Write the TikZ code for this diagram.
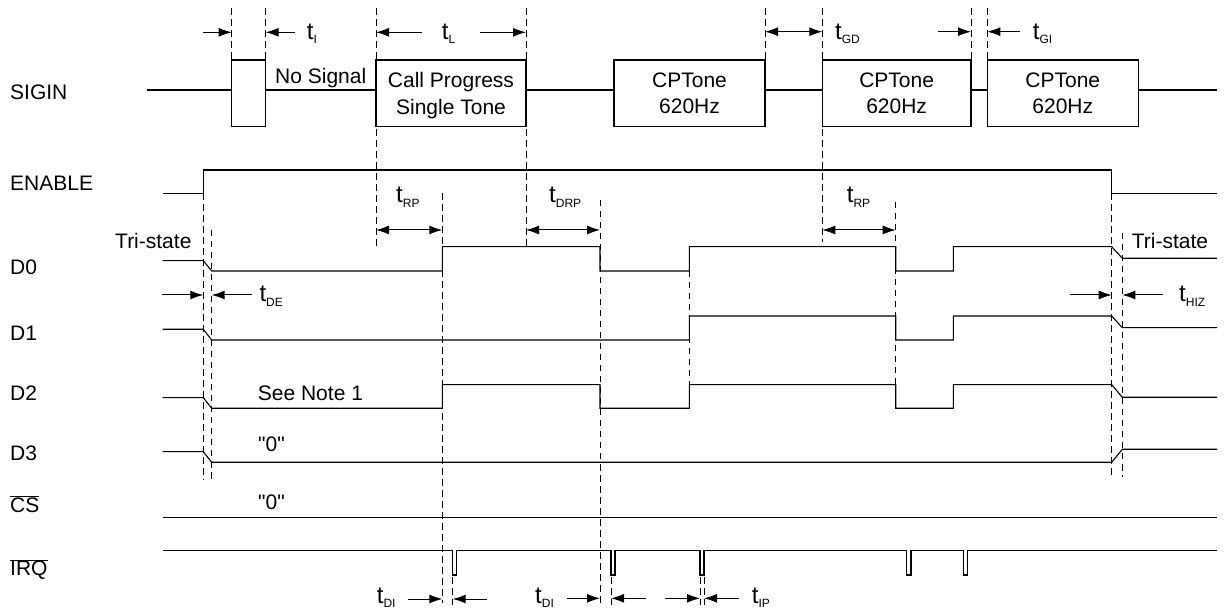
\documentclass[tikz,border=0pt]{standalone}
\usepackage{fontspec}
\setmainfont{Liberation Sans}[Ligatures=TeXOff]
\usetikzlibrary{arrows.meta}
\newcommand{\tlab}[1]{{\fontsize{24}{24}\selectfont t}\raisebox{-4.7pt}{\fontsize{12}{12}\selectfont #1}}
\newcommand{\qzero}{\symbol{34}0\symbol{34}}
\begin{document}
\begin{tikzpicture}[x=1pt,y=-1pt,
    font=\fontsize{21}{26.5}\selectfont,
    sig/.style={line width=1.1pt},
    guide/.style={line width=0.9pt, dash pattern=on 6.5pt off 4.5pt},
    dim/.style={line width=1pt, -{Latex[length=13pt,width=9pt]}},
    dimboth/.style={line width=1pt, {Latex[length=13pt,width=9pt]}-{Latex[length=13pt,width=9pt]}},
    tone/.style={draw, line width=1.1pt, inner sep=0pt, minimum height=66.7pt, align=center, text depth=0pt},
    lbl/.style={anchor=base west, inner sep=0pt}]
    \useasboundingbox (0,0) rectangle (1224,609);

    \foreach \x in {231.7,265.7,765,971,987.3} \draw[guide] (\x,8.3)--(\x,60);
    \draw[guide] (376,8.3)--(376,246);   \draw[guide] (526,8.3)--(526,246.7);
    \draw[guide] (822.3,8.3)--(822.3,241.7);
    \draw[guide] (203.3,193.3)--(203.3,480);   \draw[guide] (211.7,230)--(211.7,480);
    \draw[guide] (442.3,193.3)--(442.3,603);   \draw[guide] (600,200)--(600,603);
    \draw[guide] (689.3,271)--(689.3,408.3);   \draw[guide] (895.7,201.7)--(895.7,408.3);
    \draw[guide] (1111.7,193.3)--(1111.7,476.7);   \draw[guide] (1122.3,233)--(1122.3,476.7);
    \foreach \x in {452.7,611,700,704} \draw[guide] (\x,577)--(\x,605);

    \node[lbl] (sigin) at (10,99.5) {SIGIN};
    \node[lbl] (enable) at (10,190.8) {ENABLE};
    \node[lbl] (dzero) at (10,274.2) {D0};
    \node[lbl] (done) at (10,340.8) {D1};
    \node[lbl] (dtwo) at (10,400.8) {D2};
    \node[lbl] (dthree) at (10,460.8) {D3};
    \node[lbl] (cs) at (10,512.5) {$\overline{\hbox{CS}}$};
    \node[lbl] (irq) at (10,575.8) {$\overline{\hbox{IRQ}}$};

    \coordinate (s) at (0,90);
    \node[tone, minimum width=34pt] (pls) at (248.7,93.35) {};
    \node[tone, minimum width=150pt] (cp) at (451,93.35) {Call Progress\\Single Tone};
    \node[tone, minimum width=151pt] (cpa) at (689.5,93.35) {CPTone\\620Hz};
    \node[tone, minimum width=148.7pt] (cpb) at (896.65,93.35) {CPTone\\620Hz};
    \node[tone, minimum width=151pt] (cpc) at (1062.8,93.35) {CPTone\\620Hz};
    \draw[sig] (147,90)--(pls.west|-s) (pls.east|-s)--(cp.west|-s) (cp.east|-s)--(cpa.west|-s)
        (cpa.east|-s)--(cpb.west|-s) (cpb.east|-s)--(cpc.west|-s) (cpc.east|-s)--(1216.7,90);
    \node[lbl] (nosig) at (275,83.3) {No Signal};

    \draw[sig] (162.7,193.3)--(203.3,193.3)--(203.3,170)--(1111.7,170)--(1111.7,193.3)--(1216.7,193.3);

    \draw[sig] (162.7,260.7)--(203.3,260.7)--(211.7,271)--(442.3,271)--(442.3,246.7)--(600,246.7)--(600,271)
        --(689.3,271)--(689.3,246.7)--(895.7,246.7)--(895.7,271)--(953.3,271)--(953.3,246.7)
        --(1111.7,246.7)--(1122.3,258.3)--(1217,258.3);
    \draw[sig] (162.7,329.3)--(203.3,329.3)--(211.7,340)--(689.3,340)--(689.3,316)--(895.7,316)--(895.7,340)
        --(953.3,340)--(953.3,316)--(1111.7,316)--(1122.3,327.7)--(1217,327.7);
    \draw[sig] (162.7,397.7)--(203.3,397.7)--(211.7,408.3)--(442.3,408.3)--(442.3,384.7)--(600,384.7)--(600,408.3)
        --(689.3,408.3)--(689.3,384.7)--(895.7,384.7)--(895.7,408.3)--(953.3,408.3)--(953.3,384.7)
        --(1111.7,384.7)--(1122.3,397.3)--(1217,397.3);
    \draw[sig] (162.7,451.7)--(203.3,451.7)--(211.7,462.3)--(1111.7,462.3)--(1122.3,449.3)--(1217,449.3);
    \draw[sig] (162.7,517.7)--(1217,517.7);
    \draw[sig] (162.7,550.7)--(452.3,550.7)--(452.3,575)--(456.7,575)--(456.7,550.7)
        --(611,550.7)--(611,575)--(615,575)--(615,550.7)
        --(700,550.7)--(700,575)--(704,575)--(704,550.7)
        --(906.7,550.7)--(906.7,575)--(911,575)--(911,550.7)
        --(963.3,550.7)--(963.3,575)--(967.7,575)--(967.7,550.7)--(1217,550.7);

    \node[lbl] (tril) at (115,248.5) {Tri-state};
    \node[lbl] (trir) at (1131.7,248.2) {Tri-state};
    \node[lbl] (note) at (257.7,400.8) {See Note 1};
    \node[lbl] (zd) at (258,451.5) {\qzero};
    \node[lbl] (zcs) at (258,509.2) {\qzero};

    \draw[dim] (203,32.3)--(231.7,32.3);   \draw[dim] (295,32.3)--(265.7,32.3);
    \node[lbl] (ti) at (306.7,39.3) {\tlab{I}};
    \draw[dim] (421.7,32.3)--(376,32.3);   \draw[dim] (480,32.3)--(526,32.3);
    \node[lbl] (tl) at (441.7,39.3) {\tlab{L}};
    \draw[dimboth] (765,31.7)--(822.3,31.7);
    \node[lbl] (tgd) at (835,39.3) {\tlab{GD}};
    \draw[dim] (938.3,31.7)--(971,31.7);   \draw[dim] (1020,31.7)--(987.3,31.7);
    \node[lbl] (tgi) at (1032.7,39.3) {\tlab{GI}};

    \draw[dimboth] (376,230)--(442.3,230);
    \node[lbl] (trp) at (396,202.7) {\tlab{RP}};
    \draw[dimboth] (526,230)--(600,230);
    \node[lbl] (tdrp) at (549,202.7) {\tlab{DRP}};
    \draw[dimboth] (822.3,230)--(895.7,230);
    \node[lbl] (trpb) at (846.7,202.7) {\tlab{RP}};

    \draw[dim] (161.7,295)--(203.3,295);   \draw[dim] (251.7,295)--(211.7,295);
    \node[lbl] (tde) at (259.3,301.7) {\tlab{DE}};
    \draw[dim] (1070,295)--(1111.7,295);   \draw[dim] (1163.3,295)--(1122.3,295);
    \node[lbl] (thiz) at (1179,301.7) {\tlab{HIZ}};

    \draw[dim] (408.3,599)--(442.3,599);   \draw[dim] (486.7,599)--(452.7,599);
    \node[lbl] (tdi) at (376.7,603) {\tlab{DI}};
    \draw[dim] (566.7,598.3)--(600,598.3);   \draw[dim] (646,598.3)--(611,598.3);
    \node[lbl] (tdib) at (535,603) {\tlab{DI}};
    \draw[dim] (665,598.3)--(700,598.3);   \draw[dim] (739.3,598.3)--(704,598.3);
    \node[lbl] (tip) at (751.7,603) {\tlab{IP}};
\end{tikzpicture}
\end{document}
